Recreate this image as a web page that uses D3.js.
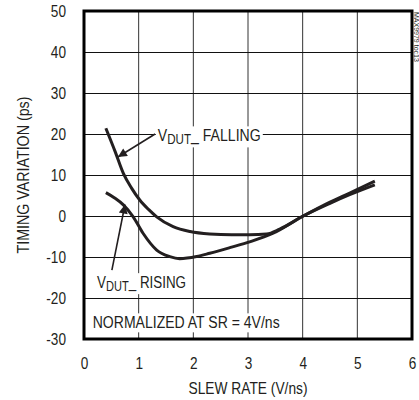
<!DOCTYPE html>
<html><head><meta charset="utf-8">
<script src="https://cdn.jsdelivr.net/npm/d3@7"></script>
<style>
html,body{margin:0;padding:0;background:#fff;}
text{font-family:"Liberation Sans",Arial,sans-serif;fill:#231f20;}
</style></head>
<body><svg id="c" width="419" height="400"></svg>
<script>
const xTicks = [0,1,2,3,4,5,6];
const yTicks = [-30,-20,-10,0,10,20,30,40,50];
const fallingX = [0.40,0.57,0.72,0.87,1.02,1.18,1.33,1.63,1.94,2.30,2.70,3.03,3.34,3.58,4.01,4.50,4.86,5.32];
const fallingY = [21.4,15.7,10.4,6.8,3.9,1.6,-0.2,-2.6,-3.8,-4.4,-4.6,-4.6,-4.4,-3.2,0.0,3.4,5.6,8.5];
const risingX = [0.40,0.56,0.72,0.90,1.08,1.33,1.57,1.75,2.06,2.30,2.70,3.03,3.46,4.01,4.50,4.86,5.32];
const risingY = [5.7,4.4,2.7,-0.2,-4.2,-8.3,-9.9,-10.4,-9.9,-9.1,-7.6,-6.3,-4.2,0.0,3.1,5.2,7.6];
const xTitle = "SLEW RATE (V/ns)";
const yTitle = "TIMING VARIATION (ps)";
const note = "NORMALIZED AT SR = 4V/ns";

const svg = d3.select("#c");
const L=84, R=412, T=11, B=339;
const x = d3.scaleLinear().domain([0,6]).range([L,R]);
const y = d3.scaleLinear().domain([-30,50]).range([B,T]);
const ink = "#231f20";
const FS = 17;

function squeeze(sel, target){
  sel.each(function(){
    const w = this.getComputedTextLength();
    const tl = target ? target : w*0.8;
    d3.select(this).attr("textLength",tl).attr("lengthAdjust","spacingAndGlyphs");
  });
}

// grid
const g = svg.append("g");
g.selectAll(".vx").data(xTicks.slice(1,-1)).join("line")
  .attr("x1",d=>x(d)).attr("x2",d=>x(d)).attr("y1",T).attr("y2",B)
  .attr("stroke","#333").attr("stroke-width",1);
g.selectAll(".hy").data(yTicks.slice(1,-1)).join("line")
  .attr("y1",d=>Math.round(y(d))+0.5).attr("y2",d=>Math.round(y(d))+0.5).attr("x1",L).attr("x2",R)
  .attr("stroke","#111").attr("stroke-width",1);

// axes labels via d3 axes
const xa = svg.append("g").attr("transform",`translate(0,${B})`)
  .call(d3.axisBottom(x).tickValues(xTicks).tickFormat(d=>String(d)).tickSize(0).tickPadding(18));
const ya = svg.append("g").attr("transform",`translate(${L},0)`)
  .call(d3.axisLeft(y).tickValues(yTicks).tickFormat(d=>String(d)).tickSize(0).tickPadding(18));
[xa,ya].forEach(a=>{a.select(".domain").remove();
  a.selectAll("text").attr("font-size",FS).attr("fill",ink)
   .style("font-family",'"Liberation Sans",Arial,sans-serif');
  squeeze(a.selectAll("text"));});

// white-background labels, horizontally condensed via group scale
function label(parts, xd, yd, width){
  const grp = svg.append("g");
  const t = grp.append("text").attr("x",0).attr("y",0).attr("font-size",FS);
  parts.forEach(p=>{
    const ts = t.append("tspan").text(p.t);
    if(p.sub){ ts.attr("font-size",14).attr("dy",3); }
    else if(p.after){ ts.attr("dy",-3); }
  });
  const bb = t.node().getBBox();
  const k = width / bb.width;
  grp.insert("rect","text").attr("x",bb.x-2/k).attr("y",bb.y).attr("width",bb.width+4/k).attr("height",bb.height)
    .attr("fill","#fff");
  grp.attr("transform",`translate(${x(xd)},${y(yd)}) scale(${k},1)`);
  return grp;
}

// curves
const line = d3.line().x(d=>x(d[0])).y(d=>y(d[1])).curve(d3.curveMonotoneX);
const fall = fallingX.map((v,i)=>[v,fallingY[i]]);
const rise = risingX.map((v,i)=>[v,risingY[i]]);
svg.append("path").attr("d",line(rise)).attr("fill","none").attr("stroke",ink).attr("stroke-width",3);
svg.append("path").attr("d",line(fall)).attr("fill","none").attr("stroke",ink).attr("stroke-width",3);

// labels
label([{t:"V"},{t:"DUT",sub:true},{t:"_ FALLING",after:true}],1.35,18.2,103);
label([{t:"V"},{t:"DUT",sub:true},{t:"_ RISING",after:true}],0.24,-17.6,89);
label([{t:note}],0.16,-27.4,187);

// arrows
svg.append("defs").append("marker").attr("id","ah").attr("viewBox","0 0 10 10")
  .attr("refX",10).attr("refY",5).attr("markerWidth",15).attr("markerHeight",9)
  .attr("markerUnits","userSpaceOnUse").attr("orient","auto")
  .append("path").attr("d","M0,0L10,5L0,10Z").attr("fill",ink);
const arrows = [[[1.30,20.0],[0.62,14.4]],[[0.51,-13.2],[0.75,2.8]]];
arrows.forEach(a=>svg.append("line").attr("x1",x(a[0][0])).attr("y1",y(a[0][1]))
  .attr("x2",x(a[1][0])).attr("y2",y(a[1][1])).attr("stroke",ink).attr("stroke-width",1.6)
  .attr("marker-end","url(#ah)"));

// frame
svg.append("rect").attr("x",L).attr("y",T).attr("width",R-L).attr("height",B-T)
  .attr("fill","none").attr("stroke","#000").attr("stroke-width",3);

// titles
const xt = svg.append("text").attr("x",(L+R)/2).attr("y",394).attr("text-anchor","middle").attr("font-size",FS).text(xTitle);
squeeze(xt,119);
const yt = svg.append("text").attr("transform",`translate(29,${(T+B)/2}) rotate(-90)`).attr("text-anchor","middle")
  .attr("font-size",FS).text(yTitle);
squeeze(yt,157);
// side code
svg.append("text").attr("transform",`translate(414,12) rotate(90)`).attr("font-size",7).attr("fill","#444")
  .text("MAX9979 toc13");
</script></body></html>
